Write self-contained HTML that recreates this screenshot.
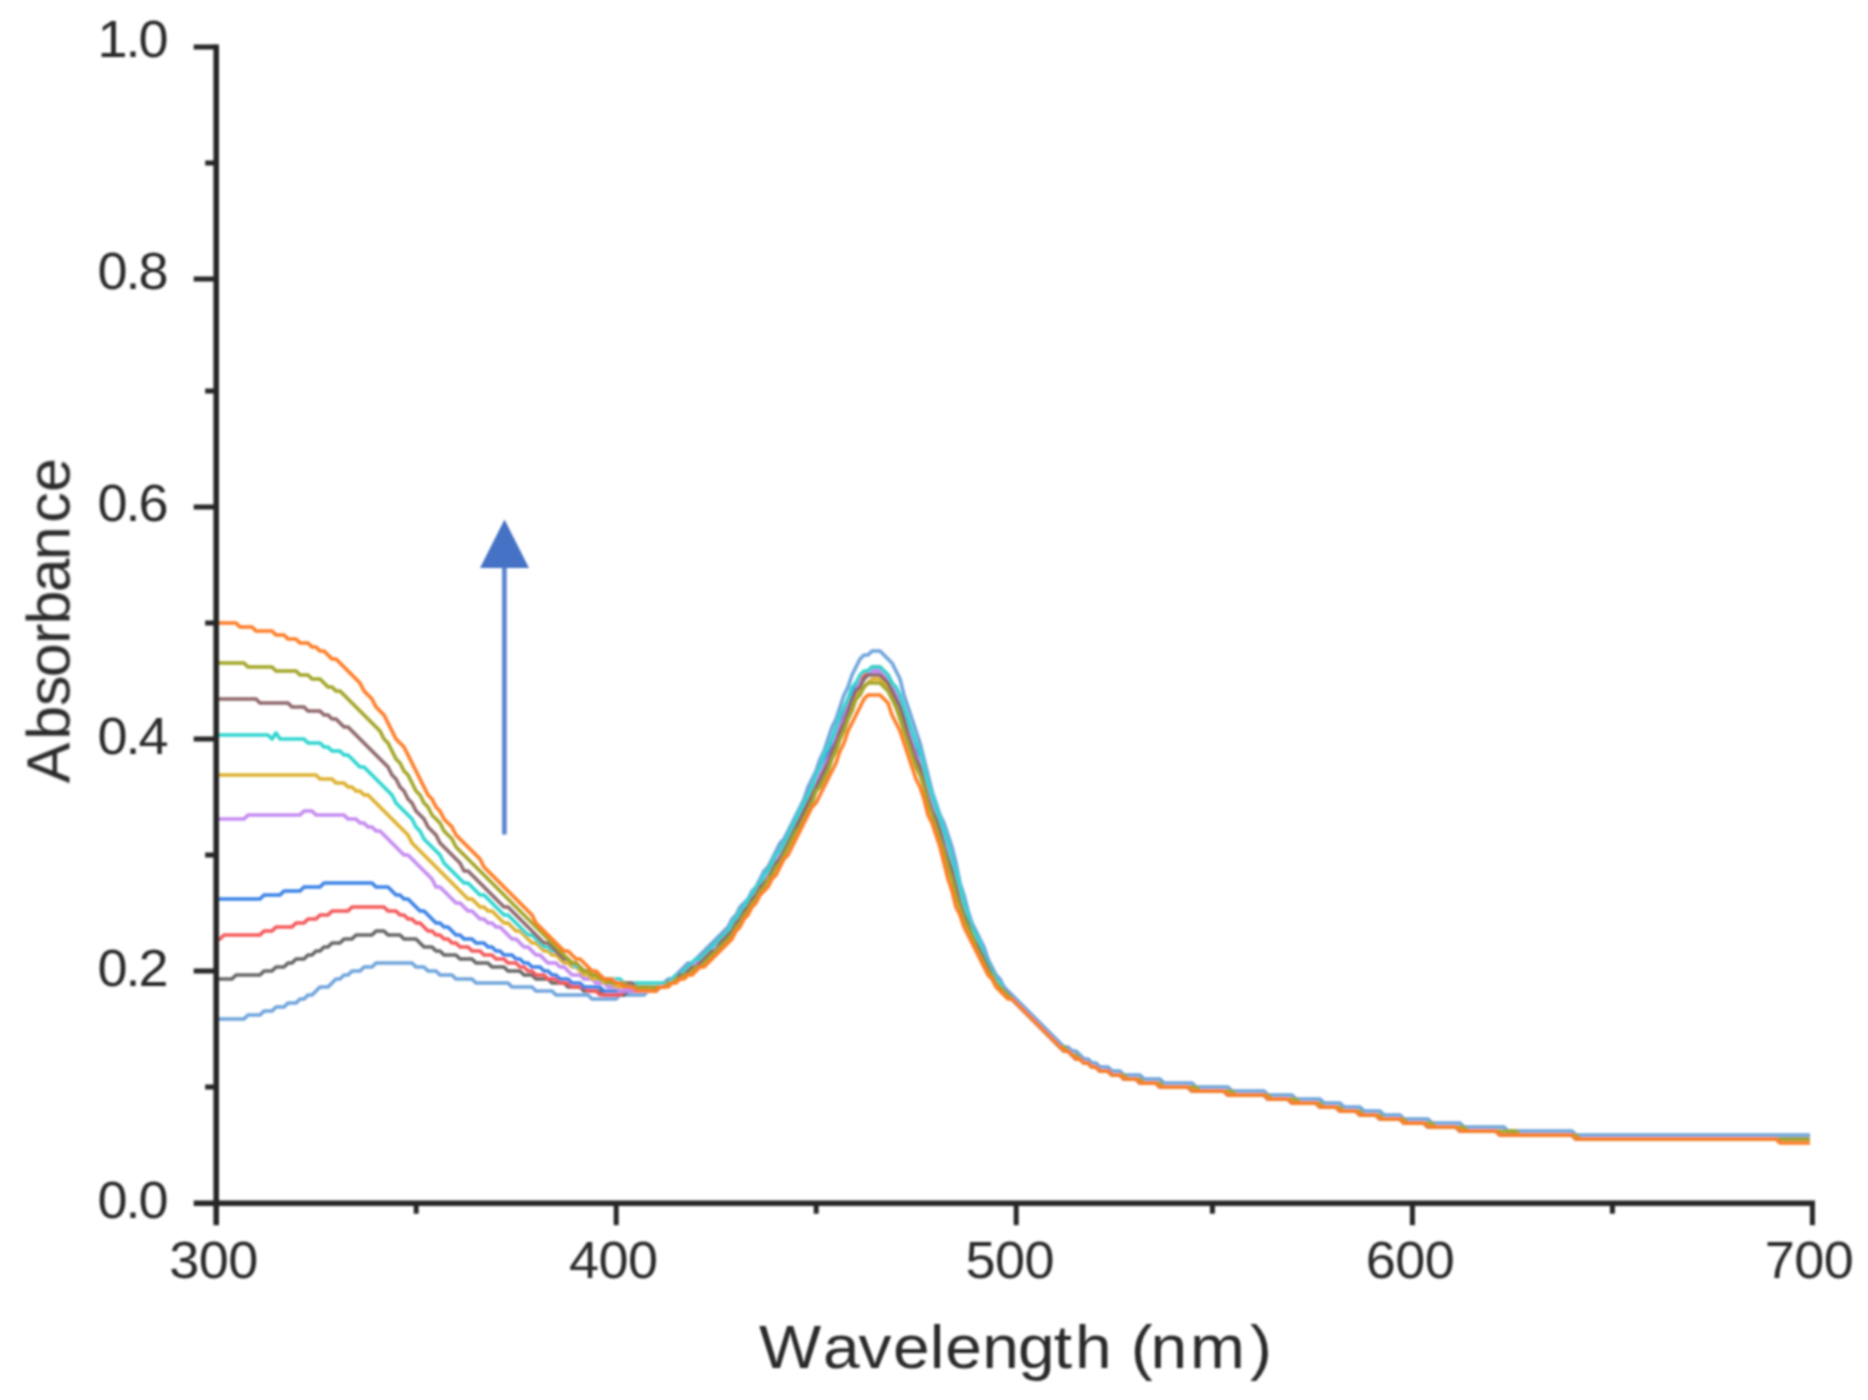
<!DOCTYPE html>
<html lang="en"><head><meta charset="utf-8"><title>Absorbance vs Wavelength</title>
<style>html,body{margin:0;padding:0;background:#fff;}svg{display:block;}</style></head>
<body>
<svg width="1868" height="1400" viewBox="0 0 1868 1400">
<rect width="1868" height="1400" fill="#ffffff"/>
<defs><filter id="b1" x="-5%" y="-5%" width="110%" height="110%"><feGaussianBlur stdDeviation="1.1"/></filter><filter id="b2" x="-5%" y="-5%" width="110%" height="110%"><feGaussianBlur stdDeviation="1.0"/></filter><filter id="b3" x="-5%" y="-5%" width="110%" height="110%"><feGaussianBlur stdDeviation="0.8"/></filter></defs>
<g stroke="none" filter="url(#b2)"><rect x="502" y="560" width="4.8" height="274.5" fill="#5F88D0"/><polygon points="504.5,519.5 480,568 529,568" fill="#4472C4"/></g>
<g fill="none" stroke-width="3.6" stroke-linejoin="round" stroke-linecap="butt" filter="url(#b1)">
<path d="M216,1019 L244,1019 L248,1015 L260,1015 L264,1011 L272,1011 L276,1007 L284,1007 L288,1003 L296,1003 L300,999 L304,999 L308,995 L312,995 L316,991 L320,987 L328,987 L332,983 L336,979 L340,979 L344,975 L348,975 L352,971 L360,971 L364,967 L372,967 L376,963 L412,963 L416,967 L424,967 L428,971 L436,971 L440,975 L452,975 L456,979 L472,979 L476,983 L508,983 L512,987 L532,987 L536,991 L552,991 L556,995 L588,995 L592,999 L616,999 L620,995 L644,995 L648,991 L652,991 L656,987 L660,987 L664,983 L668,979 L672,979 L676,975 L680,971 L684,967 L688,963 L692,963 L696,959 L700,955 L704,951 L708,947 L712,943 L716,939 L720,935 L724,931 L728,927 L732,919 L736,915 L740,907 L744,903 L748,899 L752,891 L756,887 L760,879 L764,871 L768,867 L772,859 L776,851 L780,843 L784,839 L788,831 L792,823 L796,815 L800,807 L804,799 L808,787 L812,779 L816,771 L820,759 L824,751 L828,739 L832,727 L836,719 L840,707 L844,695 L848,687 L852,675 L856,667 L860,659 L864,655 L868,655 L872,651 L880,651 L884,655 L888,659 L892,663 L896,671 L900,679 L904,695 L908,707 L912,719 L916,731 L920,743 L924,759 L928,775 L932,791 L936,803 L940,815 L944,823 L948,835 L952,847 L956,863 L960,883 L964,895 L968,911 L972,923 L976,931 L980,939 L984,947 L988,959 L992,967 L996,975 L1000,979 L1004,987 L1008,991 L1012,995 L1016,999 L1020,1003 L1024,1007 L1028,1011 L1032,1015 L1036,1019 L1040,1023 L1044,1027 L1048,1031 L1052,1035 L1056,1039 L1060,1043 L1064,1047 L1068,1047 L1072,1051 L1076,1051 L1080,1055 L1084,1059 L1088,1059 L1092,1063 L1096,1063 L1100,1067 L1108,1067 L1112,1071 L1120,1071 L1124,1075 L1140,1075 L1144,1079 L1160,1079 L1164,1083 L1192,1083 L1196,1087 L1228,1087 L1232,1091 L1264,1091 L1268,1095 L1292,1095 L1296,1099 L1320,1099 L1324,1103 L1340,1103 L1344,1107 L1360,1107 L1364,1111 L1380,1111 L1384,1115 L1400,1115 L1404,1119 L1428,1119 L1432,1123 L1460,1123 L1464,1127 L1504,1127 L1508,1131 L1572,1131 L1576,1135 L1810,1135" stroke="#6FA4DC"/>
<path d="M216,979 L232,979 L236,975 L260,975 L264,971 L272,971 L276,967 L284,967 L288,963 L292,963 L296,959 L304,959 L308,955 L312,955 L316,951 L320,951 L324,947 L328,947 L332,943 L340,943 L344,939 L352,939 L356,935 L372,935 L376,931 L384,931 L388,935 L400,935 L404,939 L416,939 L420,943 L424,947 L432,947 L436,951 L440,951 L444,955 L456,955 L460,959 L472,959 L476,963 L488,963 L492,967 L504,967 L508,971 L520,971 L524,975 L532,975 L536,979 L548,979 L552,983 L564,983 L568,987 L580,987 L584,991 L600,991 L604,995 L624,995 L628,991 L652,991 L656,987 L660,987 L664,983 L668,983 L672,979 L676,979 L680,975 L684,971 L688,967 L692,963 L696,963 L700,959 L704,955 L708,951 L712,947 L716,943 L720,939 L724,935 L728,931 L732,927 L736,919 L740,915 L744,907 L748,903 L752,895 L756,891 L760,883 L764,879 L768,871 L772,863 L776,859 L780,851 L784,843 L788,835 L792,827 L796,823 L800,815 L804,803 L808,795 L812,787 L816,779 L820,767 L824,759 L828,751 L832,739 L836,731 L840,719 L844,711 L848,699 L852,691 L856,683 L860,679 L864,675 L868,671 L872,667 L880,667 L884,671 L888,675 L892,683 L896,691 L900,699 L904,711 L908,723 L912,735 L916,743 L920,755 L924,771 L928,787 L932,799 L936,811 L940,823 L944,835 L948,847 L952,859 L956,875 L960,891 L964,903 L968,919 L972,927 L976,935 L980,947 L984,955 L988,963 L992,971 L996,979 L1000,987 L1004,991 L1008,995 L1012,999 L1016,1003 L1020,1007 L1024,1011 L1028,1015 L1032,1019 L1036,1023 L1040,1027 L1044,1031 L1048,1035 L1052,1039 L1056,1043 L1060,1047 L1064,1051 L1068,1051 L1072,1055 L1076,1059 L1080,1059 L1084,1063 L1088,1063 L1092,1067 L1096,1067 L1100,1071 L1108,1071 L1112,1075 L1120,1075 L1124,1079 L1136,1079 L1140,1083 L1156,1083 L1160,1087 L1188,1087 L1192,1091 L1224,1091 L1228,1095 L1264,1095 L1268,1099 L1288,1099 L1292,1103 L1316,1103 L1320,1107 L1336,1107 L1340,1111 L1356,1111 L1360,1115 L1376,1115 L1380,1119 L1400,1119 L1404,1123 L1424,1123 L1428,1127 L1456,1127 L1460,1131 L1496,1131 L1500,1135 L1572,1135 L1576,1139 L1810,1139" stroke="#666666"/>
<path d="M216,939 L220,939 L224,935 L260,935 L264,931 L272,931 L276,927 L292,927 L296,923 L304,923 L308,919 L316,919 L320,915 L328,915 L332,911 L348,911 L352,907 L384,907 L388,911 L396,911 L400,915 L404,915 L408,919 L412,919 L416,923 L420,923 L424,927 L428,931 L432,931 L436,935 L440,935 L444,939 L448,939 L452,943 L456,943 L460,947 L468,947 L472,951 L480,951 L484,955 L492,955 L496,959 L504,959 L508,963 L516,963 L520,967 L524,967 L528,971 L532,971 L536,975 L544,975 L548,979 L556,979 L560,983 L568,983 L572,987 L584,987 L588,991 L596,991 L600,995 L620,995 L624,991 L652,991 L656,987 L660,987 L664,983 L668,983 L672,979 L676,979 L680,975 L684,971 L688,967 L692,967 L696,963 L700,959 L704,955 L708,955 L712,951 L716,947 L720,943 L724,935 L728,931 L732,927 L736,919 L740,915 L744,907 L748,903 L752,899 L756,891 L760,887 L764,879 L768,871 L772,867 L776,859 L780,851 L784,847 L788,839 L792,831 L796,823 L800,815 L804,807 L808,799 L812,791 L816,779 L820,771 L824,763 L828,755 L832,743 L836,731 L840,723 L844,711 L848,703 L852,695 L856,687 L860,679 L864,675 L868,671 L880,671 L884,675 L888,679 L892,687 L896,691 L900,699 L904,711 L908,723 L912,735 L916,747 L920,759 L924,771 L928,787 L932,803 L936,815 L940,823 L944,839 L948,851 L952,863 L956,879 L960,895 L964,907 L968,919 L972,931 L976,939 L980,947 L984,955 L988,967 L992,975 L996,979 L1000,987 L1004,991 L1008,995 L1012,999 L1016,1003 L1020,1007 L1024,1011 L1028,1015 L1032,1019 L1036,1023 L1040,1027 L1044,1031 L1048,1035 L1052,1039 L1056,1043 L1060,1047 L1064,1051 L1068,1051 L1072,1055 L1076,1059 L1080,1059 L1084,1063 L1088,1063 L1092,1067 L1096,1067 L1100,1071 L1108,1071 L1112,1075 L1120,1075 L1124,1079 L1136,1079 L1140,1083 L1156,1083 L1160,1087 L1188,1087 L1192,1091 L1224,1091 L1228,1095 L1264,1095 L1268,1099 L1288,1099 L1292,1103 L1316,1103 L1320,1107 L1336,1107 L1340,1111 L1356,1111 L1360,1115 L1376,1115 L1380,1119 L1400,1119 L1404,1123 L1424,1123 L1428,1127 L1456,1127 L1460,1131 L1496,1131 L1500,1135 L1572,1135 L1576,1139 L1810,1139" stroke="#F4585A"/>
<path d="M216,899 L260,899 L264,895 L280,895 L284,891 L300,891 L304,887 L320,887 L324,883 L372,883 L376,887 L388,887 L392,891 L396,895 L400,895 L404,899 L408,899 L412,903 L416,907 L420,911 L424,911 L428,915 L432,919 L436,923 L440,923 L444,927 L448,927 L452,931 L456,935 L460,935 L464,939 L472,939 L476,943 L484,943 L488,947 L492,947 L496,951 L500,951 L504,955 L512,955 L516,959 L520,959 L524,963 L528,963 L532,967 L540,967 L544,971 L548,971 L552,975 L556,975 L560,979 L568,979 L572,983 L580,983 L584,987 L600,987 L604,991 L656,991 L660,987 L664,983 L668,983 L672,979 L676,979 L680,975 L684,971 L688,971 L692,967 L696,963 L700,959 L704,959 L708,955 L712,951 L716,947 L720,943 L724,939 L728,931 L732,927 L736,923 L740,915 L744,911 L748,903 L752,899 L756,891 L760,887 L764,879 L768,875 L772,867 L776,863 L780,855 L784,847 L788,839 L792,831 L796,823 L800,815 L804,807 L808,799 L812,791 L816,783 L820,775 L824,763 L828,755 L832,747 L836,735 L840,727 L844,715 L848,707 L852,695 L856,687 L860,683 L864,679 L868,675 L872,671 L880,671 L884,675 L888,679 L892,687 L896,695 L900,703 L904,715 L908,727 L912,739 L916,751 L920,763 L924,775 L928,791 L932,803 L936,815 L940,827 L944,839 L948,855 L952,867 L956,883 L960,895 L964,907 L968,919 L972,931 L976,939 L980,947 L984,959 L988,967 L992,975 L996,979 L1000,987 L1004,991 L1008,995 L1012,999 L1016,1003 L1020,1007 L1024,1011 L1028,1015 L1032,1019 L1036,1023 L1040,1027 L1044,1031 L1048,1035 L1052,1039 L1056,1043 L1060,1047 L1064,1051 L1068,1051 L1072,1055 L1076,1059 L1080,1059 L1084,1063 L1088,1063 L1092,1067 L1096,1067 L1100,1071 L1108,1071 L1112,1075 L1120,1075 L1124,1079 L1136,1079 L1140,1083 L1156,1083 L1160,1087 L1188,1087 L1192,1091 L1224,1091 L1228,1095 L1264,1095 L1268,1099 L1288,1099 L1292,1103 L1316,1103 L1320,1107 L1336,1107 L1340,1111 L1356,1111 L1360,1115 L1376,1115 L1380,1119 L1400,1119 L1404,1123 L1424,1123 L1428,1127 L1456,1127 L1460,1131 L1496,1131 L1500,1135 L1572,1135 L1576,1139 L1810,1139" stroke="#3B82E6"/>
<path d="M216,819 L244,819 L248,815 L300,815 L304,811 L312,811 L316,815 L344,815 L348,819 L356,819 L360,823 L364,823 L368,827 L372,827 L376,831 L380,831 L384,835 L388,839 L392,843 L396,847 L400,851 L404,855 L408,855 L412,859 L416,863 L420,867 L424,871 L428,875 L432,879 L436,887 L440,887 L444,891 L448,895 L452,899 L456,903 L460,903 L464,907 L468,911 L472,911 L476,915 L480,919 L484,919 L488,923 L492,923 L496,927 L500,927 L504,931 L508,935 L512,939 L516,939 L520,943 L524,947 L528,947 L532,951 L536,955 L540,955 L544,959 L548,963 L556,963 L560,967 L564,967 L568,971 L572,975 L580,975 L584,979 L592,979 L596,983 L604,983 L608,987 L616,987 L620,991 L656,991 L660,987 L664,983 L672,983 L676,979 L680,975 L684,975 L688,971 L692,967 L696,963 L700,963 L704,959 L708,955 L712,951 L716,947 L720,943 L724,939 L728,935 L732,927 L736,923 L740,919 L744,911 L748,907 L752,899 L756,895 L760,887 L764,883 L768,875 L772,871 L776,863 L780,855 L784,847 L788,843 L792,835 L796,827 L800,819 L804,811 L808,803 L812,795 L816,783 L820,775 L824,767 L828,759 L832,751 L836,739 L840,727 L844,719 L848,707 L852,699 L856,691 L860,683 L864,679 L868,675 L872,671 L880,671 L884,675 L888,683 L892,687 L896,695 L900,707 L904,719 L908,731 L912,743 L916,755 L920,763 L924,779 L928,795 L932,807 L936,819 L940,831 L944,843 L948,855 L952,871 L956,883 L960,899 L964,911 L968,923 L972,931 L976,939 L980,951 L984,959 L988,967 L992,975 L996,979 L1000,987 L1004,991 L1008,995 L1012,999 L1016,1003 L1020,1007 L1024,1011 L1028,1015 L1032,1019 L1036,1023 L1040,1027 L1044,1031 L1048,1035 L1052,1039 L1056,1043 L1060,1047 L1064,1051 L1068,1051 L1072,1055 L1076,1059 L1080,1059 L1084,1063 L1088,1063 L1092,1067 L1096,1067 L1100,1071 L1108,1071 L1112,1075 L1120,1075 L1124,1079 L1136,1079 L1140,1083 L1156,1083 L1160,1087 L1188,1087 L1192,1091 L1224,1091 L1228,1095 L1264,1095 L1268,1099 L1288,1099 L1292,1103 L1316,1103 L1320,1107 L1336,1107 L1340,1111 L1356,1111 L1360,1115 L1376,1115 L1380,1119 L1400,1119 L1404,1123 L1424,1123 L1428,1127 L1456,1127 L1460,1131 L1496,1131 L1500,1135 L1572,1135 L1576,1139 L1810,1139" stroke="#C58BF0"/>
<path d="M216,775 L316,775 L320,779 L332,779 L336,783 L344,783 L348,787 L352,787 L356,791 L360,791 L364,795 L368,795 L372,799 L376,803 L380,807 L384,811 L388,815 L392,819 L396,823 L400,827 L404,831 L408,835 L412,843 L416,847 L420,851 L424,855 L428,859 L432,863 L436,867 L440,871 L444,875 L448,879 L452,883 L456,887 L460,891 L464,895 L468,899 L472,899 L476,903 L480,907 L484,907 L488,911 L492,911 L496,915 L500,919 L504,923 L508,923 L512,927 L516,931 L520,931 L524,935 L528,939 L532,943 L536,943 L540,947 L544,951 L548,951 L552,955 L556,955 L560,959 L564,963 L568,963 L572,967 L576,967 L580,971 L584,975 L588,975 L592,979 L600,979 L604,983 L612,983 L616,987 L640,987 L644,991 L656,991 L660,987 L664,987 L668,983 L672,983 L676,979 L680,979 L684,975 L688,971 L692,971 L696,967 L700,963 L704,959 L708,959 L712,955 L716,951 L720,947 L724,943 L728,939 L732,931 L736,927 L740,919 L744,915 L748,907 L752,903 L756,895 L760,891 L764,883 L768,879 L772,871 L776,867 L780,859 L784,851 L788,847 L792,839 L796,831 L800,823 L804,815 L808,807 L812,799 L816,791 L820,783 L824,775 L828,767 L832,755 L836,747 L840,735 L844,727 L848,715 L852,707 L856,699 L860,691 L864,687 L868,683 L872,679 L880,679 L884,683 L888,687 L892,695 L896,707 L900,715 L904,727 L908,739 L912,751 L916,763 L920,771 L924,783 L928,799 L932,811 L936,823 L940,835 L944,847 L948,863 L952,875 L956,891 L960,903 L964,915 L968,927 L972,935 L976,943 L980,951 L984,963 L988,967 L992,975 L996,983 L1000,987 L1004,991 L1008,995 L1012,999 L1016,1003 L1020,1007 L1024,1011 L1028,1015 L1032,1019 L1036,1023 L1040,1027 L1044,1031 L1048,1035 L1052,1039 L1056,1043 L1060,1047 L1064,1051 L1068,1051 L1072,1055 L1076,1059 L1080,1059 L1084,1063 L1088,1063 L1092,1067 L1096,1067 L1100,1071 L1108,1071 L1112,1075 L1120,1075 L1124,1079 L1136,1079 L1140,1083 L1156,1083 L1160,1087 L1188,1087 L1192,1091 L1224,1091 L1228,1095 L1264,1095 L1268,1099 L1288,1099 L1292,1103 L1316,1103 L1320,1107 L1336,1107 L1340,1111 L1356,1111 L1360,1115 L1376,1115 L1380,1119 L1400,1119 L1404,1123 L1424,1123 L1428,1127 L1456,1127 L1460,1131 L1496,1131 L1500,1135 L1572,1135 L1576,1139 L1810,1139" stroke="#DDB02E"/>
<path d="M216,735 L268,735 L272,739 L276,733 L280,739 L304,739 L308,743 L320,743 L324,747 L328,747 L332,751 L340,751 L344,755 L348,755 L352,759 L356,763 L360,767 L364,767 L368,771 L372,775 L376,779 L380,783 L384,787 L388,791 L392,795 L396,803 L400,807 L404,811 L408,815 L412,819 L416,827 L420,831 L424,839 L428,843 L432,847 L436,851 L440,855 L444,863 L448,867 L452,871 L456,875 L460,879 L464,883 L468,883 L472,887 L476,891 L480,895 L484,895 L488,899 L492,903 L496,907 L500,911 L504,915 L508,915 L512,919 L516,923 L520,927 L524,931 L528,935 L532,935 L536,939 L540,943 L544,947 L548,947 L552,951 L556,951 L560,955 L564,959 L568,959 L572,963 L576,967 L580,967 L584,971 L588,971 L592,975 L600,975 L604,979 L620,979 L624,983 L668,983 L672,979 L676,975 L680,975 L684,971 L688,967 L692,963 L696,959 L700,959 L704,955 L708,951 L712,947 L716,943 L720,939 L724,935 L728,931 L732,923 L736,919 L740,911 L744,907 L748,899 L752,895 L756,887 L760,883 L764,875 L768,871 L772,863 L776,855 L780,851 L784,843 L788,835 L792,827 L796,819 L800,811 L804,803 L808,795 L812,787 L816,775 L820,767 L824,755 L828,747 L832,739 L836,727 L840,715 L844,707 L848,699 L852,687 L856,683 L860,675 L864,671 L868,671 L872,667 L880,667 L884,671 L888,675 L892,683 L896,687 L900,695 L904,707 L908,719 L912,731 L916,743 L920,751 L924,767 L928,783 L932,795 L936,807 L940,819 L944,831 L948,843 L952,859 L956,871 L960,887 L964,903 L968,915 L972,927 L976,935 L980,943 L984,955 L988,963 L992,971 L996,979 L1000,983 L1004,991 L1008,995 L1012,999 L1016,1003 L1020,1007 L1024,1011 L1028,1015 L1032,1019 L1036,1023 L1040,1027 L1044,1031 L1048,1035 L1052,1039 L1056,1043 L1060,1047 L1064,1051 L1068,1051 L1072,1055 L1076,1059 L1080,1059 L1084,1063 L1088,1063 L1092,1067 L1096,1067 L1100,1071 L1108,1071 L1112,1075 L1120,1075 L1124,1079 L1136,1079 L1140,1083 L1156,1083 L1160,1087 L1188,1087 L1192,1091 L1224,1091 L1228,1095 L1264,1095 L1268,1099 L1288,1099 L1292,1103 L1316,1103 L1320,1107 L1336,1107 L1340,1111 L1356,1111 L1360,1115 L1376,1115 L1380,1119 L1400,1119 L1404,1123 L1424,1123 L1428,1127 L1456,1127 L1460,1131 L1496,1131 L1500,1135 L1572,1135 L1576,1139 L1810,1139" stroke="#2DD5D0"/>
<path d="M216,699 L256,699 L260,703 L288,703 L292,707 L304,707 L308,711 L320,711 L324,715 L328,715 L332,719 L336,719 L340,723 L344,727 L348,727 L352,731 L356,735 L360,739 L364,743 L368,747 L372,751 L376,755 L380,759 L384,763 L388,767 L392,775 L396,779 L400,787 L404,791 L408,799 L412,803 L416,811 L420,815 L424,819 L428,827 L432,831 L436,835 L440,843 L444,847 L448,851 L452,855 L456,859 L460,863 L464,871 L468,871 L472,875 L476,879 L480,883 L484,887 L488,891 L492,895 L496,899 L500,903 L504,907 L508,907 L512,911 L516,915 L520,919 L524,923 L528,927 L532,931 L536,935 L540,939 L544,943 L548,943 L552,947 L556,951 L560,955 L564,959 L568,959 L572,963 L576,963 L580,967 L584,971 L588,971 L592,975 L596,975 L600,979 L608,979 L612,983 L632,983 L636,987 L652,987 L656,991 L660,987 L664,987 L668,983 L672,983 L676,979 L680,975 L684,975 L688,971 L692,967 L696,967 L700,963 L704,959 L708,955 L712,951 L716,951 L720,943 L724,939 L728,935 L732,931 L736,923 L740,919 L744,911 L748,907 L752,899 L756,895 L760,887 L764,883 L768,879 L772,871 L776,863 L780,859 L784,851 L788,843 L792,835 L796,827 L800,819 L804,811 L808,803 L812,795 L816,787 L820,779 L824,771 L828,763 L832,751 L836,743 L840,731 L844,723 L848,711 L852,699 L856,691 L860,687 L864,679 L868,675 L880,675 L884,679 L888,683 L892,691 L896,699 L900,707 L904,719 L908,735 L912,747 L916,759 L920,767 L924,783 L928,799 L932,811 L936,819 L940,831 L944,847 L948,859 L952,871 L956,887 L960,903 L964,915 L968,923 L972,935 L976,943 L980,951 L984,959 L988,967 L992,975 L996,983 L1000,987 L1004,991 L1008,995 L1012,999 L1016,1003 L1020,1007 L1024,1011 L1028,1015 L1032,1019 L1036,1023 L1040,1027 L1044,1031 L1048,1035 L1052,1039 L1056,1043 L1060,1047 L1064,1051 L1068,1051 L1072,1055 L1076,1059 L1080,1059 L1084,1063 L1088,1063 L1092,1067 L1096,1067 L1100,1071 L1108,1071 L1112,1075 L1120,1075 L1124,1079 L1136,1079 L1140,1083 L1156,1083 L1160,1087 L1188,1087 L1192,1091 L1224,1091 L1228,1095 L1264,1095 L1268,1099 L1288,1099 L1292,1103 L1316,1103 L1320,1107 L1336,1107 L1340,1111 L1356,1111 L1360,1115 L1376,1115 L1380,1119 L1400,1119 L1404,1123 L1424,1123 L1428,1127 L1456,1127 L1460,1131 L1496,1131 L1500,1135 L1572,1135 L1576,1139 L1810,1139" stroke="#8E676B"/>
<path d="M216,663 L244,663 L248,667 L272,667 L276,671 L296,671 L300,675 L308,675 L312,679 L320,679 L324,683 L328,687 L332,687 L336,691 L340,691 L344,695 L348,699 L352,703 L356,707 L360,711 L364,715 L368,719 L372,723 L376,727 L380,731 L384,739 L388,743 L392,751 L396,759 L400,763 L404,771 L408,775 L412,783 L416,791 L420,795 L424,803 L428,807 L432,815 L436,819 L440,823 L444,831 L448,835 L452,839 L456,847 L460,851 L464,855 L468,859 L472,863 L476,867 L480,871 L484,875 L488,879 L492,883 L496,887 L500,891 L504,895 L508,899 L512,903 L516,907 L520,911 L524,915 L528,919 L532,923 L536,927 L540,931 L544,935 L548,939 L552,943 L556,947 L560,951 L564,955 L568,959 L572,963 L576,963 L580,967 L584,971 L588,971 L592,975 L596,975 L600,979 L604,979 L608,983 L624,983 L628,987 L664,987 L668,983 L672,983 L676,979 L680,979 L684,975 L688,975 L692,971 L696,967 L700,967 L704,963 L708,959 L712,955 L716,951 L720,947 L724,943 L728,939 L732,935 L736,927 L740,923 L744,915 L748,911 L752,903 L756,899 L760,891 L764,887 L768,879 L772,875 L776,867 L780,863 L784,855 L788,847 L792,839 L796,831 L800,827 L804,819 L808,811 L812,803 L816,791 L820,787 L824,779 L828,771 L832,759 L836,751 L840,739 L844,731 L848,719 L852,711 L856,699 L860,695 L864,687 L868,683 L880,683 L884,687 L888,691 L892,699 L896,707 L900,719 L904,731 L908,743 L912,755 L916,767 L920,775 L924,787 L928,803 L932,815 L936,827 L940,839 L944,851 L948,867 L952,879 L956,895 L960,907 L964,919 L968,927 L972,935 L976,947 L980,955 L984,963 L988,971 L992,975 L996,983 L1000,987 L1004,991 L1008,995 L1012,999 L1016,1003 L1020,1007 L1024,1011 L1028,1015 L1032,1019 L1036,1023 L1040,1027 L1044,1031 L1048,1035 L1052,1039 L1056,1043 L1060,1047 L1064,1047 L1068,1051 L1072,1055 L1076,1055 L1080,1059 L1084,1063 L1088,1063 L1092,1067 L1096,1067 L1100,1071 L1108,1071 L1112,1075 L1124,1075 L1128,1079 L1140,1079 L1144,1083 L1160,1083 L1164,1087 L1196,1087 L1200,1091 L1232,1091 L1236,1095 L1268,1095 L1272,1099 L1296,1099 L1300,1103 L1320,1103 L1324,1107 L1340,1107 L1344,1111 L1360,1111 L1364,1115 L1380,1115 L1384,1119 L1404,1119 L1408,1123 L1432,1123 L1436,1127 L1464,1127 L1468,1131 L1516,1131 L1520,1135 L1576,1135 L1580,1139 L1810,1139" stroke="#A3A528"/>
<path d="M216,623 L236,623 L240,627 L252,627 L256,631 L272,631 L276,635 L284,635 L288,639 L296,639 L300,643 L308,643 L312,647 L316,647 L320,651 L324,651 L328,655 L332,659 L336,659 L340,663 L344,667 L348,671 L352,675 L356,679 L360,683 L364,691 L368,695 L372,699 L376,707 L380,711 L384,715 L388,723 L392,731 L396,739 L400,743 L404,747 L408,755 L412,763 L416,771 L420,779 L424,787 L428,795 L432,799 L436,807 L440,811 L444,819 L448,823 L452,827 L456,835 L460,839 L464,843 L468,847 L472,851 L476,855 L480,859 L484,867 L488,871 L492,875 L496,879 L500,883 L504,887 L508,891 L512,895 L516,899 L520,903 L524,907 L528,911 L532,915 L536,923 L540,927 L544,931 L548,935 L552,939 L556,943 L560,947 L564,951 L568,951 L572,955 L576,959 L580,959 L584,963 L588,967 L592,971 L596,971 L600,975 L604,979 L612,979 L616,983 L620,983 L624,987 L632,987 L636,991 L656,991 L660,987 L668,987 L672,983 L676,983 L680,979 L684,979 L688,975 L692,975 L696,971 L700,967 L704,967 L708,963 L712,959 L716,955 L720,951 L724,947 L728,943 L732,939 L736,931 L740,927 L744,919 L748,915 L752,907 L756,903 L760,895 L764,891 L768,887 L772,879 L776,875 L780,867 L784,859 L788,855 L792,847 L796,839 L800,831 L804,823 L808,815 L812,807 L816,803 L820,795 L824,787 L828,779 L832,771 L836,763 L840,751 L844,743 L848,731 L852,723 L856,715 L860,707 L864,699 L868,695 L880,695 L884,699 L888,703 L892,715 L896,723 L900,731 L904,743 L908,755 L912,767 L916,779 L920,787 L924,799 L928,815 L932,823 L936,835 L940,847 L944,863 L948,879 L952,891 L956,907 L960,915 L964,927 L968,935 L972,943 L976,951 L980,959 L984,967 L988,975 L992,979 L996,987 L1000,991 L1004,995 L1008,999 L1012,999 L1016,1003 L1020,1007 L1024,1011 L1028,1015 L1032,1019 L1036,1023 L1040,1027 L1044,1031 L1048,1035 L1052,1039 L1056,1043 L1060,1047 L1064,1051 L1068,1051 L1072,1055 L1076,1059 L1080,1059 L1084,1063 L1088,1063 L1092,1067 L1096,1067 L1100,1071 L1108,1071 L1112,1075 L1120,1075 L1124,1079 L1136,1079 L1140,1083 L1156,1083 L1160,1087 L1188,1087 L1192,1091 L1224,1091 L1228,1095 L1264,1095 L1268,1099 L1288,1099 L1292,1103 L1316,1103 L1320,1107 L1336,1107 L1340,1111 L1356,1111 L1360,1115 L1376,1115 L1380,1119 L1400,1119 L1404,1123 L1424,1123 L1428,1127 L1456,1127 L1460,1131 L1496,1131 L1500,1135 L1572,1135 L1576,1139 L1776,1139 L1780,1143 L1810,1143" stroke="#FF7D26"/>
</g>
<g filter="url(#b2)"><g stroke="#262626" stroke-width="5.6" stroke-linecap="butt" fill="none">
<path d="M216.2,44.4 V1225.2"/>
<path d="M193.7,1203.2 H1815.0"/>
</g>
<g stroke="#262626" stroke-width="5" fill="none">
<path d="M616.2,1203.2 V1225.2"/>
<path d="M1016.2,1203.2 V1225.2"/>
<path d="M1412.4,1203.2 V1225.2"/>
<path d="M1812.4,1203.2 V1225.2"/>
<path d="M416.2,1203.2 V1213.7"/>
<path d="M816.2,1203.2 V1213.7"/>
<path d="M1212.4,1203.2 V1213.7"/>
<path d="M1612.4,1203.2 V1213.7"/>
<path d="M193.7,971 H216.2"/>
<path d="M193.7,739 H216.2"/>
<path d="M193.7,507 H216.2"/>
<path d="M193.7,279 H216.2"/>
<path d="M193.7,47 H216.2"/>
<path d="M205.2,1087 H216.2"/>
<path d="M205.2,855 H216.2"/>
<path d="M205.2,623 H216.2"/>
<path d="M205.2,391 H216.2"/>
<path d="M205.2,163 H216.2"/>
</g></g>
<g font-family="'Liberation Sans', sans-serif" fill="#2b2b2b" font-size="51" filter="url(#b3)">
<text transform="translate(213.8,1277.5) scale(1.06,1)" text-anchor="middle" textLength="84.0" lengthAdjust="spacing">300</text>
<text transform="translate(613.6,1277.5) scale(1.06,1)" text-anchor="middle" textLength="84.0" lengthAdjust="spacing">400</text>
<text transform="translate(1010.0,1277.5) scale(1.06,1)" text-anchor="middle" textLength="84.0" lengthAdjust="spacing">500</text>
<text transform="translate(1410.2,1277.5) scale(1.06,1)" text-anchor="middle" textLength="84.0" lengthAdjust="spacing">600</text>
<text transform="translate(1809.2,1277.5) scale(1.06,1)" text-anchor="middle" textLength="84.0" lengthAdjust="spacing">700</text>
<text transform="translate(168.5,1218.0) scale(1.06,1)" text-anchor="end" textLength="67.0" lengthAdjust="spacing">0.0</text>
<text transform="translate(168.5,985.8) scale(1.06,1)" text-anchor="end" textLength="67.0" lengthAdjust="spacing">0.2</text>
<text transform="translate(168.5,753.6) scale(1.06,1)" text-anchor="end" textLength="67.0" lengthAdjust="spacing">0.4</text>
<text transform="translate(168.5,521.4) scale(1.06,1)" text-anchor="end" textLength="67.0" lengthAdjust="spacing">0.6</text>
<text transform="translate(168.5,289.2) scale(1.06,1)" text-anchor="end" textLength="67.0" lengthAdjust="spacing">0.8</text>
<text transform="translate(168.5,57.0) scale(1.06,1)" text-anchor="end" textLength="67.0" lengthAdjust="spacing">1.0</text>
</g>
<g font-family="'Liberation Sans', sans-serif" fill="#2b2b2b" font-size="61" filter="url(#b3)">
<text transform="scale(1.08,1)" x="702.8 762.0 795.0 826.9 861.0 875.2 909.4 942.6 975.6 995.3 1030.4 1047.0 1065.2 1101.8 1157.5" y="1368">Wavelength (nm)</text>
<text transform="translate(69.5,786.5) rotate(-90)" x="3.3 46.8 80.5 109.2 142.4 162.1 194.3 226.2 263.8 294.6" y="0">Absorbance</text>
</g>
</svg>
</body></html>
